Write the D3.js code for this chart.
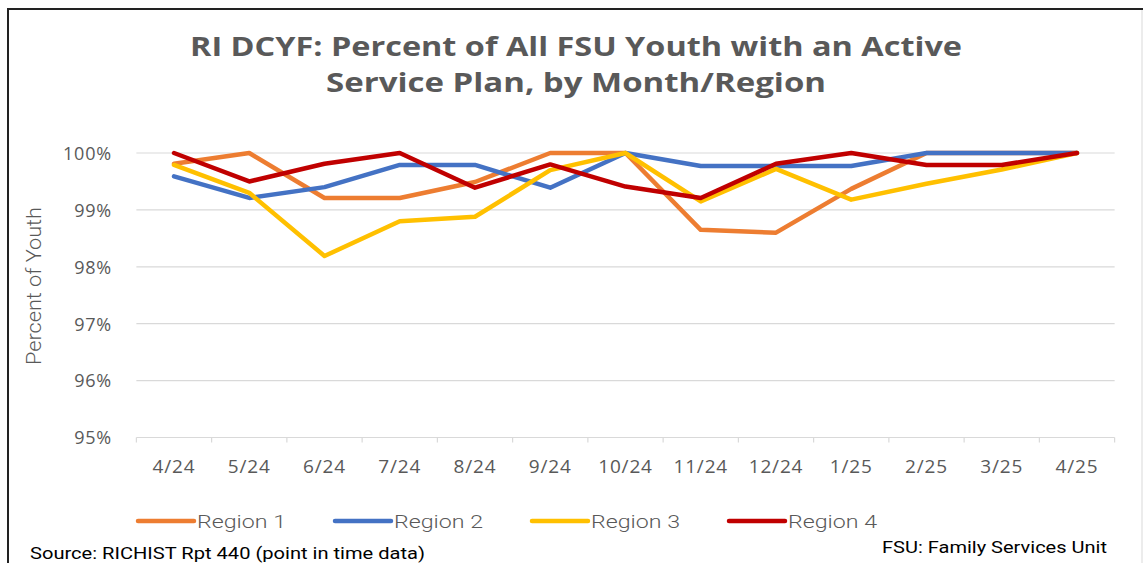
<!DOCTYPE html>
<html>
<head>
<meta charset="utf-8">
<script src="https://cdn.jsdelivr.net/npm/d3@7"></script>
<style>
  body { margin: 0; background: #fff; }
  .axis text { font-family: "Open Sans", sans-serif; fill: #595959; }
</style>
</head>
<body>
<svg id="chart" width="1143" height="563"></svg>
<script>
// data
var months = ["4/24","5/24","6/24","7/24","8/24","9/24","10/24","11/24","12/24","1/25","2/25","3/25","4/25"];
var region1 = [99.81,100,99.21,99.21,99.49,100,100,98.65,98.6,99.37,100,100,100];
var region2 = [99.59,99.21,99.4,99.79,99.79,99.39,100,99.77,99.77,99.77,100,100,100];
var region3 = [99.79,99.3,98.19,98.8,98.88,99.7,100,99.15,99.72,99.18,99.46,99.71,100];
var region4 = [100,99.5,99.81,100,99.39,99.8,99.41,99.21,99.81,100,99.79,99.79,100];
var seriesNames = ["Region 1","Region 2","Region 3","Region 4"];
var seriesColors = ["#ed7d31","#4472c4","#ffc000","#c00000"];
var yTicks = [95,96,97,98,99,100];
var titleLines = ["RI DCYF: Percent of All FSU Youth with an Active", "Service Plan, by Month/Region"];

var series = [region1, region2, region3, region4];

var svg = d3.select("#chart");

// frame
svg.append("rect").attr("x",8).attr("y",9).attr("width",1160).attr("height",600)
   .attr("fill","none").attr("stroke","#222").attr("stroke-width",2);
svg.append("line").attr("x1",1142).attr("x2",1142).attr("y1",10).attr("y2",563)
   .attr("stroke","#d9d9d9").attr("stroke-width",1);

var x = d3.scalePoint().domain(months).range([174,1077]);
var band = x.step();
var y = d3.scaleLinear().domain([95,100]).range([437.5,153]);

// title (the original is stretched sideways, so fit each line to its width)
svg.append("g").selectAll("text").data(titleLines).enter().append("text")
   .attr("text-anchor","middle").attr("x",576)
   .attr("y",function(d,i){ return 56 + i*36; })
   .attr("textLength",function(d,i){ return i == 0 ? 772 : 500; })
   .attr("lengthAdjust","spacingAndGlyphs")
   .attr("font-family","'Open Sans', sans-serif").attr("font-weight","bold")
   .attr("font-size","27px").attr("fill","#595959")
   .text(function(d){ return d; });

// gridlines
svg.append("g").selectAll("line").data(yTicks.slice(1)).enter().append("line")
   .attr("x1",x(months[0]) - band/2).attr("x2",x(months[months.length-1]) + band/2)
   .attr("y1",function(d){ return y(d); }).attr("y2",function(d){ return y(d); })
   .attr("stroke","#d9d9d9").attr("stroke-width",1.2);

// y axis labels
var yAxis = d3.axisLeft(y).tickValues(yTicks).tickSize(0).tickPadding(0)
   .tickFormat(function(d){ return d + "%"; });
var gy = svg.append("g").attr("class","axis").attr("transform","translate(112,0)").call(yAxis);
gy.select(".domain").remove();
gy.selectAll("text").attr("dy","0.35em").attr("font-size","18px").attr("letter-spacing","0.8px");

// x axis
var bottom = y(95);
svg.append("line").attr("x1",x(months[0]) - band/2).attr("x2",x(months[months.length-1]) + band/2)
   .attr("y1",bottom).attr("y2",bottom).attr("stroke","#d9d9d9").attr("stroke-width",1.2);
var bounds = months.map(function(m){ return x(m) - band/2; });
bounds.push(x(months[months.length-1]) + band/2);
svg.append("g").selectAll("line").data(bounds).enter().append("line")
   .attr("x1",function(d){ return d; }).attr("x2",function(d){ return d; })
   .attr("y1",bottom).attr("y2",bottom + 5)
   .attr("stroke","#d9d9d9").attr("stroke-width",1.2);
svg.append("g").attr("class","axis").selectAll("text").data(months).enter().append("text")
   .attr("x",function(d){ return x(d); }).attr("y",473)
   .attr("font-size","19px").attr("letter-spacing","0.8px")
   .attr("text-anchor","middle").text(function(d){ return d; });

// y title
svg.append("text").attr("transform","translate(41,286) rotate(-90)")
   .attr("text-anchor","middle").attr("textLength",158).attr("lengthAdjust","spacingAndGlyphs")
   .attr("font-family","Roboto, sans-serif").attr("font-weight","300")
   .attr("font-size","20px").attr("fill","#595959").text("Percent of Youth");

// lines
var line = d3.line().x(function(d,i){ return x(months[i]); }).y(function(d){ return y(d); });
svg.append("g").selectAll("path").data(series).enter().append("path")
   .attr("d",line).attr("fill","none")
   .attr("stroke",function(d,i){ return seriesColors[i]; })
   .attr("stroke-width",4.5).attr("stroke-linejoin","round").attr("stroke-linecap","round");

// legend
var legX = [138,335,532,729];
var leg = svg.append("g").selectAll("g").data(seriesNames).enter().append("g")
   .attr("transform",function(d,i){ return "translate(" + legX[i] + ",521)"; });
leg.append("line").attr("x1",0).attr("x2",56).attr("y1",0).attr("y2",0)
   .attr("stroke",function(d,i){ return seriesColors[i]; }).attr("stroke-width",4.5)
   .attr("stroke-linecap","round");
leg.append("text").attr("x",59).attr("y",0).attr("dy","0.36em")
   .attr("textLength",89).attr("lengthAdjust","spacingAndGlyphs")
   .attr("font-family","Roboto, sans-serif").attr("font-weight","300")
   .attr("font-size","19px").attr("fill","#595959").text(function(d){ return d; });

// footnotes
svg.append("text").attr("x",30).attr("y",559)
   .attr("textLength",395).attr("lengthAdjust","spacingAndGlyphs")
   .attr("font-family","Roboto, sans-serif")
   .attr("font-size","17px").attr("fill","#000").text("Source: RICHIST Rpt 440 (point in time data)");
svg.append("text").attr("x",882).attr("y",553)
   .attr("textLength",225).attr("lengthAdjust","spacingAndGlyphs")
   .attr("font-family","Roboto, sans-serif")
   .attr("font-size","17px").attr("fill","#000").text("FSU: Family Services Unit");
</script>
</body>
</html>
